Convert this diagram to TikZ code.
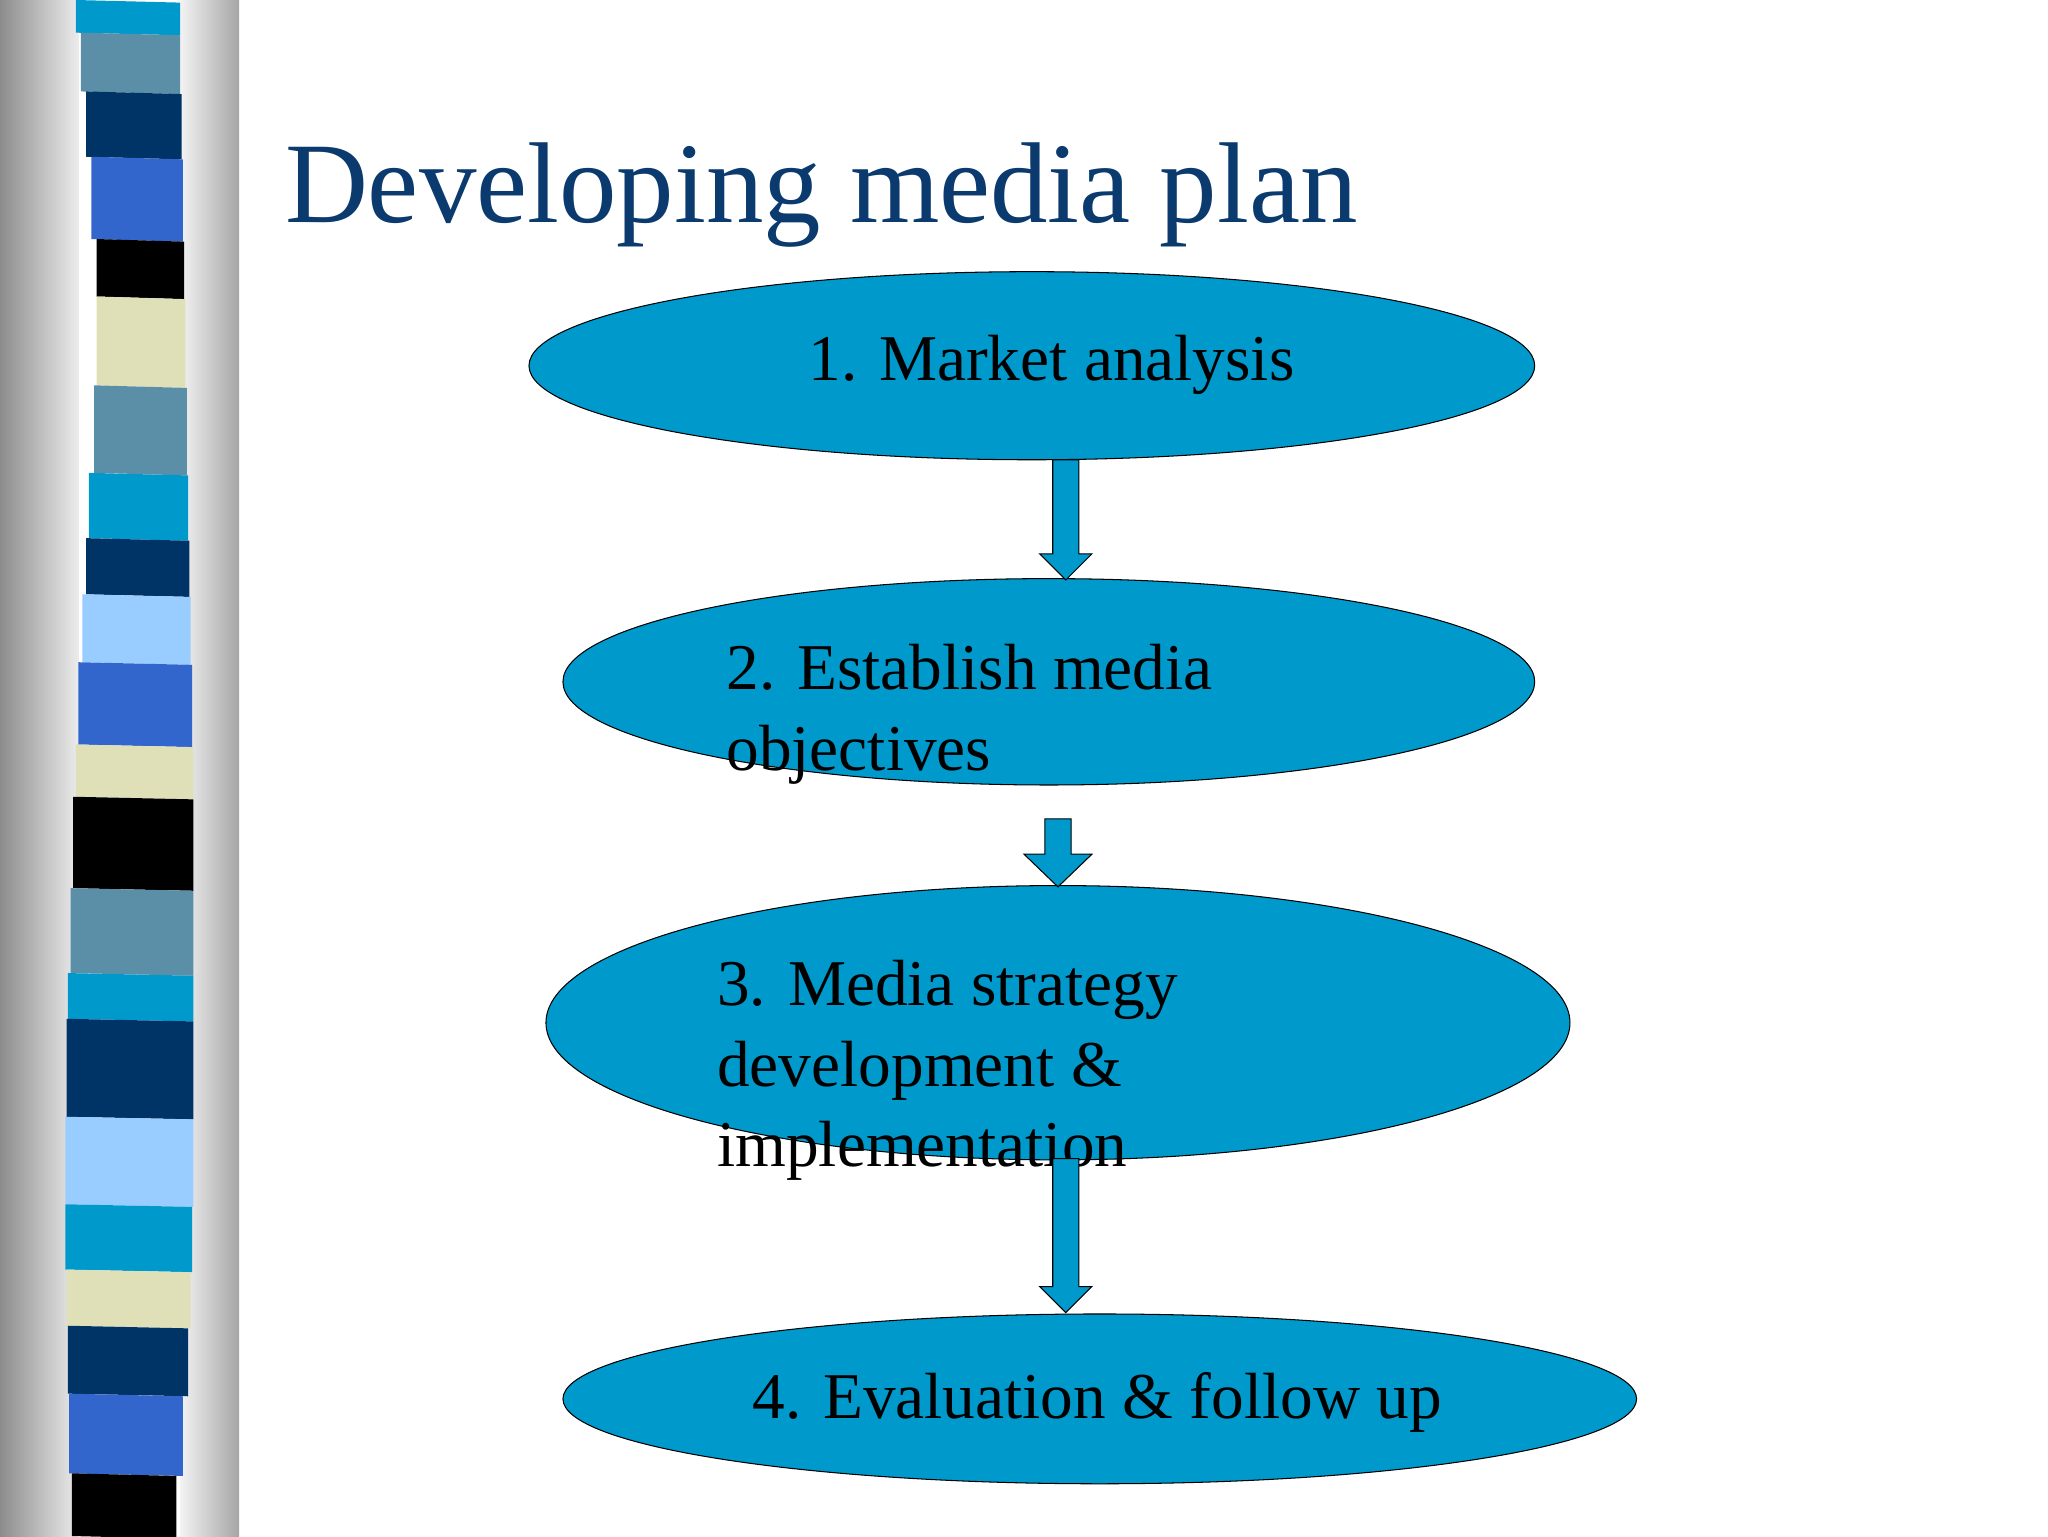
\documentclass[tikz,border=0pt]{standalone}
\usepackage{fontspec}
\setmainfont{Liberation Serif}
\usetikzlibrary{shapes.geometric}
\definecolor{cy}{HTML}{0099CC}
\definecolor{st}{HTML}{5B8FA8}
\definecolor{nv}{HTML}{003366}
\definecolor{bl}{HTML}{3366CC}
\definecolor{bg}{HTML}{E0E0B8}
\definecolor{lb}{HTML}{99CCFF}
\definecolor{tt}{HTML}{0B3A6E}
\begin{document}
\begin{tikzpicture}[x=1pt,y=-1pt,
  el/.style={ellipse,draw=black,fill=cy,line width=0.8pt,inner sep=0pt},
  txt/.style={font=\fontsize{50}{62}\selectfont,align=left,text=black},
  arr/.style={fill=cy,draw=black,line width=0.8pt}]
\useasboundingbox (0,0) rectangle (1568,1176);
\fill[white] (0,0) rectangle (1568,1176);
\shade[left color=gray!90,right color=gray!15] (0,0) rectangle (60,1176);
\shade[left color=gray!10,right color=gray!70] (138,0) rectangle (183,1176);
\foreach \a/\b/\c/\l/\r in {0/25/cy/58/138,25/70/st/62/138,70/120/nv/66/139,120/183/bl/70/140,183/227/black/74/141,227/295/bg/74/142,295/362/st/72/143,362/412/cy/68/144,412/455/nv/66/145,455/507/lb/63/146,507/570/bl/60/147,570/610/bg/58/148,610/680/black/56/148,680/745/st/54/148,745/780/cy/52/148,780/855/nv/51/148,855/922/lb/50/148,922/972/cy/50/147,972/1015/bg/51/146,1015/1067/nv/52/144,1067/1128/bl/53/140,1128/1176/black/55/135}
  \fill[\c] (\l,\a) -- (\r,\a+2) -- (\r,\b+2) -- (\l,\b) -- cycle;
\node[anchor=base west,text=tt,font=\fontsize{88}{100}\selectfont,inner sep=0pt] (title) at (218,170) {Developing media plan};
\node[el,minimum width=770,minimum height=144] (e1) at (790,280) {};
\node[el,minimum width=744,minimum height=158] (e2) at (803,522) {};
\node[el,minimum width=784,minimum height=210] (e3) at (810,783) {};
\node[el,minimum width=822,minimum height=130] (e4) at (842,1071) {};
\node[txt,anchor=base] at (805,291) {1. Market analysis};
\node[txt,anchor=base west,inner sep=0pt] at (556,528) {2. Establish media};
\node[txt,anchor=base west,inner sep=0pt] at (556,590) {objectives};
\node[txt,anchor=base west,inner sep=0pt] at (549,770) {3. Media strategy};
\node[txt,anchor=base west,inner sep=0pt] at (549,832) {development \&};
\node[txt,anchor=base west,inner sep=0pt] at (549,893) {implementation};
\node[txt,anchor=base] at (840,1086) {4. Evaluation \& follow up};
\coordinate (a1) at (816,352);
\draw[arr] ([xshift=-10]a1) -- ++(0,72) -- ++(-10,0) -- (816,444) -- (836,424) -- (826,424) -- (826,352) -- cycle;
\draw[arr] (800,627) -- (820,627) -- (820,654) -- (836,654) -- (810,679) -- (784,654) -- (800,654) -- cycle;
\draw[arr] (806,887) -- (826,887) -- (826,985) -- (836,985) -- (816,1005) -- (796,985) -- (806,985) -- cycle;
\end{tikzpicture}
\end{document}
